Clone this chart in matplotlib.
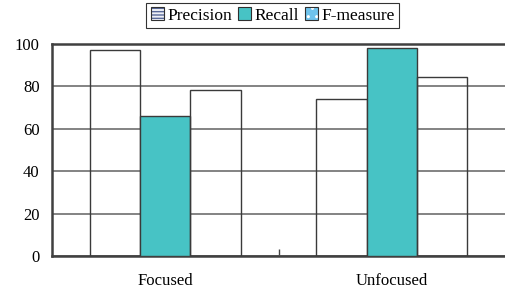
import numpy as np
import matplotlib
matplotlib.use("Agg")
import matplotlib.pyplot as plt
from matplotlib.patches import Patch

# values
categories = ["Focused", "Unfocused"]
precision = [97, 74]
recall = [66, 98]
f_measure = [78.5, 84.5]
yticks = [0, 20, 40, 60, 80, 100]

plt.rcParams['font.family'] = ['Liberation Serif', 'DejaVu Serif']

fig = plt.figure(figsize=(5.05, 2.91), dpi=100)
ax = fig.add_axes([0.103, 0.120, 0.897, 0.729])

x = np.arange(len(categories))
w = 0.222
edge = '#3a3a3a'

ax.bar(x - w, precision, w, facecolor='none', edgecolor=edge, linewidth=1.0, zorder=3)
ax.bar(x, recall, w, facecolor='#47C3C5', edgecolor=edge, linewidth=1.0, zorder=3)
ax.bar(x + w, f_measure, w, facecolor='none', edgecolor=edge, linewidth=1.0, zorder=3)

ax.set_ylim(0, 100)
ax.set_xlim(-0.5, 1.5)
ax.set_yticks(yticks)
ax.yaxis.grid(True, color='#7a7a7a', linewidth=1.3, zorder=0)
ax.set_axisbelow(True)

ax.set_xticks(x)
ax.set_xticklabels(categories)
ax.set_xticks([0.5], minor=True)
ax.tick_params(axis='x', which='major', length=0, pad=12, labelsize=12)
ax.tick_params(axis='x', which='minor', direction='in', length=5, width=1, color='#444444')
ax.tick_params(axis='y', length=0, pad=9, labelsize=12)

ax.spines['right'].set_visible(False)
for s in ['left', 'bottom', 'top']:
    ax.spines[s].set_color('#404040')
    ax.spines[s].set_linewidth(1.8)

# legend proxies: pattern layer plus a dark outline
outline = dict(facecolor='none', edgecolor='#303030', linewidth=0.8)
handles = [
    (Patch(facecolor='#eef0f6', edgecolor='#5a6a9a', hatch='-----', linewidth=0), Patch(**outline)),
    Patch(facecolor='#47C3C5', edgecolor='#303030', linewidth=0.8),
    (Patch(facecolor='#6fc3ec', edgecolor='#ffffff', hatch='..', linewidth=0), Patch(**outline)),
]
leg = fig.legend(handles, ['Precision', 'Recall', 'F-measure'], loc='center',
                 bbox_to_anchor=(0.54, 0.947), ncol=3, frameon=True, fancybox=False,
                 edgecolor='black', handlelength=0.75, handleheight=0.75,
                 handletextpad=0.2, columnspacing=0.35, borderpad=0.25,
                 prop={'size': 12.5})
leg.get_frame().set_linewidth(0.8)

fig.savefig('out.png', dpi=100)
